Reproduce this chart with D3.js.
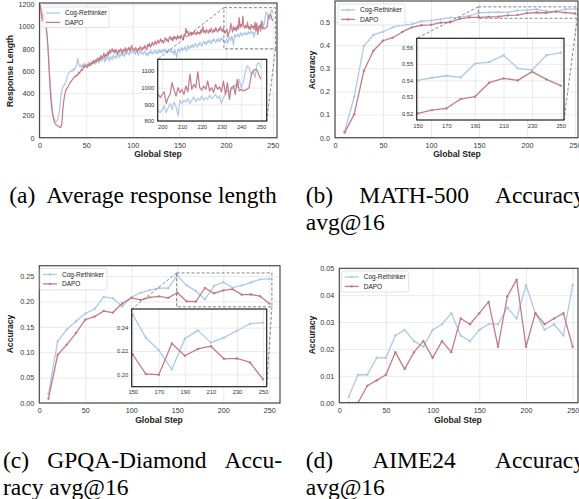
<!DOCTYPE html>
<html>
<head>
<meta charset="utf-8">
<script src="https://cdn.jsdelivr.net/npm/d3@7"></script>
<style>
  body { margin: 0; background: #fff; }
  svg { display: block; }
</style>
</head>
<body>
<svg id="fig" width="579" height="499"></svg>
<script>
(function () {
  'use strict';

  // ── Data ──────────────────────────────────────────────────────────────────
  var seriesNames = ['Cog-Rethinker', 'DAPO'];

  // (a) average response length, one value per global step (1..250)
  var lenCog = [
    1170, 1140, 1100, 1120, 1110, 1060, 990, 910, 830, 700,
    560, 430, 320, 240, 190, 165, 150, 145, 155, 180,
    220, 290, 380, 430, 450, 470, 480, 500, 520, 560,
    575, 590, 600, 595, 610, 600, 625, 615, 640, 660,
    715, 670, 640, 655, 630, 660, 640, 670, 650, 640,
    665, 640, 680, 660, 650, 690, 670, 700, 660, 690,
    680, 710, 690, 670, 720, 700, 690, 730, 710, 680,
    720, 700, 740, 715, 690, 730, 720, 700, 745, 720,
    730, 710, 760, 740, 720, 750, 735, 770, 740, 755,
    730, 770, 750, 780, 760, 745, 775, 760, 790, 770,
    760, 780, 750, 775, 765, 740, 770, 785, 755, 770,
    750, 765, 780, 745, 760, 735, 770, 755, 790, 760,
    775, 750, 770, 790, 760, 780, 755, 795, 770, 785,
    760, 790, 775, 800, 770, 790, 760, 785, 800, 770,
    790, 765, 780, 750, 795, 760, 720, 780, 800, 770,
    790, 810, 780, 805, 790, 820, 800, 780, 830, 810,
    800, 830, 815, 840, 810, 825, 850, 830, 815, 845,
    830, 860, 840, 820, 850, 870, 845, 860, 835, 870,
    855, 880, 860, 845, 880, 865, 890, 870, 855, 885,
    870, 895, 860, 880, 900, 875, 890, 860, 850, 870,
    890, 850, 880, 905, 870, 915, 885, 830, 925, 905,
    925, 915, 935, 905, 925, 945, 915, 935, 925, 950,
    925, 940, 930, 955, 935, 945, 960, 935, 950, 905,
    940, 960, 985, 970, 1000, 990, 1020, 1000, 1050, 1000,
    1030, 1090, 1130, 1120, 1080, 1100, 1060, 1140, 1150, 1120
  ];
  var lenDapo = [
    1195, 1110, 1050, 1090, 1120, 1070, 1010, 940, 820, 650,
    500, 370, 270, 210, 170, 140, 125, 115, 110, 105,
    100, 90, 95, 130, 250, 330, 380, 420, 440, 450,
    465, 480, 500, 505, 520, 530, 540, 555, 550, 565,
    560, 590, 580, 600, 615, 605, 640, 630, 655, 640,
    630, 660, 645, 670, 650, 680, 665, 690, 670, 700,
    680, 715, 690, 720, 700, 740, 710, 730, 760, 720,
    750, 735, 770, 745, 790, 760, 780, 800, 770, 790,
    760, 795, 775, 750, 790, 770, 800, 785, 760, 795,
    780, 810, 770, 800, 790, 815, 780, 805, 830, 790,
    800, 780, 810, 795, 770, 805, 790, 820, 800, 785,
    815, 800, 830, 810, 790, 840, 820, 850, 815, 835,
    860, 830, 845, 870, 840, 855, 880, 850, 865, 890,
    860, 875, 850, 880, 900, 870, 885, 860, 895, 910,
    880, 900, 870, 915, 890, 905, 880, 920, 895, 910,
    890, 925, 900, 880, 930, 910, 985, 940, 960, 915,
    935, 950, 920, 945, 930, 960, 940, 925, 955, 935,
    950, 930, 970, 945, 1000, 950, 965, 940, 975, 955,
    940, 970, 950, 985, 960, 945, 975, 955, 990, 965,
    950, 980, 965, 1000, 970, 955, 985, 960, 940, 960,
    975, 905, 940, 960, 1030, 985, 950, 1000, 970, 990,
    960, 1010, 975, 1080, 990, 1020, 1000, 1095, 1000, 985,
    1010, 990, 1040, 980, 1000, 970, 1020, 990, 1005, 975,
    1040, 960, 1030, 930, 1000, 1010, 960, 1050, 980, 990,
    980, 985, 990, 1000, 1070, 1100, 1110, 1105, 1075, 1050
  ];
  var lenSteps = d3.range(1, lenCog.length + 1);

  // (b)-(d) evaluation every 10 steps
  var evalSteps = [10, 20, 30, 40, 50, 60, 70, 80, 90, 100, 110, 120, 130,
                   140, 150, 160, 170, 180, 190, 200, 210, 220, 230, 240, 250];

  var mathCog  = [0.026, 0.177, 0.396, 0.444, 0.458, 0.477, 0.487, 0.490, 0.504, 0.507,
                  0.512, 0.519, 0.520, 0.527, 0.540, 0.5416, 0.5428, 0.5418, 0.5501, 0.5511,
                  0.5552, 0.5473, 0.5463, 0.5552, 0.5568];
  var mathDapo = [0.022, 0.101, 0.288, 0.376, 0.419, 0.432, 0.457, 0.477, 0.486, 0.488,
                  0.497, 0.499, 0.514, 0.520, 0.520, 0.522, 0.523, 0.5287, 0.5301, 0.5386,
                  0.5412, 0.540, 0.5453, 0.5406, 0.5368];

  var gpqaCog  = [0.0178, 0.122, 0.145, 0.161, 0.176, 0.185, 0.209, 0.206, 0.190, 0.208,
                  0.217, 0.222, 0.226, 0.226, 0.2513, 0.2315, 0.2207, 0.2043, 0.2306, 0.2377,
                  0.2272, 0.2315, 0.2374, 0.2434, 0.2443];
  var gpqaDapo = [0.0086, 0.095, 0.115, 0.138, 0.164, 0.170, 0.181, 0.178, 0.196, 0.207,
                  0.203, 0.208, 0.210, 0.207, 0.217, 0.2003, 0.1997, 0.2264, 0.2159, 0.2218,
                  0.2241, 0.2133, 0.2136, 0.2102, 0.1957];

  var aimeCog  = [0.0021, 0.0104, 0.0104, 0.0167, 0.0167, 0.0250, 0.0271, 0.0229, 0.0208, 0.0271,
                  0.0292, 0.0333, 0.0250, 0.0229, 0.0271, 0.0292, 0.0292, 0.0354, 0.0313, 0.0438,
                  0.0333, 0.0271, 0.0292, 0.0250, 0.0438];
  var aimeDapo = [0, 0, 0.0063, 0.0083, 0.0104, 0.0188, 0.0125, 0.0188, 0.0229, 0.0167,
                  0.0229, 0.0188, 0.0313, 0.0292, 0.0333, 0.0375, 0.0208, 0.0396, 0.0458, 0.0208,
                  0.0333, 0.0292, 0.0313, 0.0333, 0.0208];

  // tick values
  var stepTicks  = [0, 50, 100, 150, 200, 250];
  var lenTicks   = [0, 200, 400, 600, 800, 1000, 1200];
  var mathTicks  = [0, 0.1, 0.2, 0.3, 0.4, 0.5];
  var gpqaTicks  = [0, 0.05, 0.10, 0.15, 0.20, 0.25];
  var aimeTicks  = [0, 0.01, 0.02, 0.03, 0.04, 0.05];
  var lenInsetX  = [200, 210, 220, 230, 240, 250];
  var lenInsetY  = [800, 900, 1000, 1100];
  var evalInsetX = [150, 170, 190, 210, 230, 250];
  var mathInsetY = [0.52, 0.53, 0.54, 0.55, 0.56];
  var gpqaInsetY = [0.20, 0.22, 0.24];

  // ── Style ─────────────────────────────────────────────────────────────────
  var COG  = '#aec8e8';
  var DAPO = '#c47b88';
  var GRID = '#e4e4e4';
  var SANS  = '"Liberation Sans", Arial, Helvetica, sans-serif';
  var SERIF = '"Liberation Serif", "Times New Roman", serif';
  var CAP_FS = 23.5;

  var svg  = d3.select('#fig');
  var defs = svg.append('defs');
  var clipN = 0;

  function cleanGrid(s) {
    s.select('.domain').remove();
    s.selectAll('line').attr('stroke', GRID).attr('stroke-width', 0.8);
  }

  // ── Axes box ──────────────────────────────────────────────────────────────
  function axesBox(box, xDom, yDom, xTicks, yTicks, yFmt, fs, pad) {
    var x = d3.scaleLinear().domain(xDom).range([box.l, box.r]);
    var y = d3.scaleLinear().domain(yDom).range([box.b, box.t]);
    var w = box.r - box.l, h = box.b - box.t;
    var g = svg.append('g');

    g.append('rect').attr('x', box.l).attr('y', box.t)
      .attr('width', w).attr('height', h).attr('fill', '#fff');

    g.append('g').attr('transform', 'translate(0,' + box.b + ')')
      .call(d3.axisBottom(x).tickValues(xTicks).tickSize(-h).tickFormat(''))
      .call(cleanGrid);
    g.append('g').attr('transform', 'translate(' + box.l + ',0)')
      .call(d3.axisLeft(y).tickValues(yTicks).tickSize(-w).tickFormat(''))
      .call(cleanGrid);

    var xa = g.append('g').attr('transform', 'translate(0,' + box.b + ')')
      .call(d3.axisBottom(x).tickValues(xTicks).tickSize(0).tickPadding(pad).tickFormat(d3.format('d')));
    var ya = g.append('g').attr('transform', 'translate(' + box.l + ',0)')
      .call(d3.axisLeft(y).tickValues(yTicks).tickSize(0).tickPadding(pad).tickFormat(yFmt));
    [xa, ya].forEach(function (a) {
      a.select('.domain').remove();
      a.selectAll('text').attr('font-family', SANS).attr('font-size', fs).attr('fill', '#333');
    });

    var id = 'clip' + (clipN++);
    defs.append('clipPath').attr('id', id).append('rect')
      .attr('x', box.l).attr('y', box.t).attr('width', w).attr('height', h);
    var plot = g.append('g').attr('clip-path', 'url(#' + id + ')');

    return { g: g, plot: plot, x: x, y: y, box: box };
  }

  function frame(ax, color, width) {
    var b = ax.box;
    ax.g.append('rect').attr('x', b.l).attr('y', b.t)
      .attr('width', b.r - b.l).attr('height', b.b - b.t)
      .attr('fill', 'none').attr('stroke', color).attr('stroke-width', width);
  }

  function addSeries(ax, xs, vals, color, lw, r) {
    var line = d3.line()
      .x(function (d, i) { return ax.x(xs[i]); })
      .y(function (d) { return ax.y(d); });
    ax.plot.append('path').datum(vals).attr('d', line)
      .attr('fill', 'none').attr('stroke', color).attr('stroke-width', lw)
      .attr('stroke-linejoin', 'round');
    if (r) {
      ax.plot.append('g').selectAll('circle').data(vals).join('circle')
        .attr('cx', function (d, i) { return ax.x(xs[i]); })
        .attr('cy', function (d) { return ax.y(d); })
        .attr('r', r).attr('fill', color);
    }
  }

  function markInset(main, ins) {
    var xd = ins.x.domain(), yd = ins.y.domain();
    var l = main.x(xd[0]), r = main.x(xd[1]), t = main.y(yd[1]), b = main.y(yd[0]);
    var g = svg.append('g').attr('fill', 'none').attr('stroke', '#666')
      .attr('stroke-width', 0.8).attr('stroke-dasharray', '3,2');
    g.append('rect').attr('x', l).attr('y', t).attr('width', r - l).attr('height', b - t);
    g.append('line').attr('x1', l).attr('y1', t).attr('x2', ins.box.l).attr('y2', ins.box.t);
    g.append('line').attr('x1', r).attr('y1', b).attr('x2', ins.box.r).attr('y2', ins.box.b);
  }

  function legend(box, marker) {
    var g = svg.append('g');
    g.append('rect').attr('x', box.l).attr('y', box.t).attr('width', box.w).attr('height', box.h)
      .attr('rx', 1.5).attr('fill', '#fff').attr('fill-opacity', 0.85)
      .attr('stroke', '#d2d2d2').attr('stroke-width', 0.6);
    [COG, DAPO].forEach(function (c, i) {
      var yy = box.t + 6 + i * 9.4;
      g.append('line').attr('x1', box.l + 3).attr('x2', box.l + 17).attr('y1', yy).attr('y2', yy)
        .attr('stroke', c).attr('stroke-width', 1.3);
      if (marker) g.append('circle').attr('cx', box.l + 10).attr('cy', yy).attr('r', 1.2).attr('fill', c);
      g.append('text').attr('x', box.l + 22).attr('y', yy + 2.3)
        .attr('font-family', SANS).attr('font-size', 6.5).attr('fill', '#222')
        .text(seriesNames[i]);
    });
  }

  function axisLabel(x, y, txt, rot) {
    svg.append('text')
      .attr('transform', 'translate(' + x + ',' + y + ')' + (rot ? ' rotate(-90)' : ''))
      .attr('text-anchor', 'middle')
      .attr('font-family', SANS).attr('font-size', 8.6).attr('font-weight', 'bold').attr('fill', '#222')
      .text(txt);
  }

  function capText(x, y, txt) {
    return svg.append('text').attr('x', x).attr('y', y)
      .attr('font-family', SERIF).attr('font-size', CAP_FS).attr('fill', '#000')
      .text(txt);
  }

  // justified caption line: words spread from x0 to x1
  function justify(words, x0, x1, y) {
    var nodes = words.map(function (w) { return capText(x0, y, w); });
    var widths = nodes.map(function (n) { return n.node().getComputedTextLength(); });
    var gap = (x1 - x0 - d3.sum(widths)) / (words.length - 1);
    var cx = x0;
    nodes.forEach(function (n, i) { n.attr('x', cx); cx += widths[i] + gap; });
  }

  var f1 = d3.format('.1f'), f2 = d3.format('.2f'), fd = d3.format('d');

  // ── (a) Average response length ───────────────────────────────────────────
  var A = axesBox({ l: 39.5, r: 277, t: 3, b: 137.7 }, [0, 254.6], [0, 1212],
                  stepTicks, lenTicks, fd, 7.2, 5);
  addSeries(A, lenSteps, lenCog, COG, 1.2, 0);
  addSeries(A, lenSteps, lenDapo, DAPO, 1.2, 0);
  frame(A, '#4a4a4a', 1.2);
  var IA = axesBox({ l: 157.7, r: 266.7, t: 59.3, b: 121 }, [197.7, 252.9], [800, 1170],
                   lenInsetX, lenInsetY, fd, 5.8, 3.5);
  markInset(A, IA);
  IA.g.raise();
  addSeries(IA, lenSteps, lenCog, COG, 1.2, 0);
  addSeries(IA, lenSteps, lenDapo, DAPO, 1.2, 0);
  frame(IA, '#222', 1.2);
  legend({ l: 43, t: 7, w: 66, h: 20.5 }, false);
  axisLabel(12.7, 71, 'Response Length', true);
  axisLabel(158, 157, 'Global Step');

  // ── (b) MATH-500 ──────────────────────────────────────────────────────────
  var B = axesBox({ l: 335, r: 578, t: 1, b: 137.7 }, [0, 253.1], [0, 0.5908],
                  stepTicks, mathTicks, f1, 7.2, 5);
  addSeries(B, evalSteps, mathCog, COG, 1.3, 1.2);
  addSeries(B, evalSteps, mathDapo, DAPO, 1.3, 1.2);
  frame(B, '#4a4a4a', 1.2);
  var IB = axesBox({ l: 416.7, r: 564, t: 38.3, b: 120 }, [149.3, 252.3], [0.516, 0.5655],
                   evalInsetX, mathInsetY, f2, 5.8, 3.5);
  markInset(B, IB);
  IB.g.raise();
  addSeries(IB, evalSteps, mathCog, COG, 1.3, 1.2);
  addSeries(IB, evalSteps, mathDapo, DAPO, 1.3, 1.2);
  frame(IB, '#222', 1.2);
  legend({ l: 338, t: 4, w: 67, h: 21 }, true);
  axisLabel(315, 70, 'Accuracy', true);
  axisLabel(457, 157, 'Global Step');

  // ── (c) GPQA-Diamond ──────────────────────────────────────────────────────
  var C = axesBox({ l: 39.3, r: 280, t: 265.7, b: 403 }, [0, 261.6], [0, 0.2703],
                  stepTicks, gpqaTicks, f2, 7.2, 5);
  addSeries(C, evalSteps, gpqaCog, COG, 1.3, 1.2);
  addSeries(C, evalSteps, gpqaDapo, DAPO, 1.3, 1.2);
  frame(C, '#4a4a4a', 1.2);
  var IC = axesBox({ l: 131.7, r: 266.7, t: 309, b: 386.7 }, [149.2, 252.8], [0.1894, 0.256],
                   evalInsetX, gpqaInsetY, f2, 5.8, 3.5);
  markInset(C, IC);
  IC.g.raise();
  addSeries(IC, evalSteps, gpqaCog, COG, 1.3, 1.2);
  addSeries(IC, evalSteps, gpqaDapo, DAPO, 1.3, 1.2);
  frame(IC, '#222', 1.2);
  legend({ l: 40, t: 268.5, w: 67, h: 21.5 }, true);
  axisLabel(12.5, 334, 'Accuracy', true);
  axisLabel(159, 423, 'Global Step');

  // ── (d) AIME24 ────────────────────────────────────────────────────────────
  var D = axesBox({ l: 339.3, r: 578, t: 268.3, b: 402.7 }, [0, 255.7], [0, 0.05],
                  stepTicks, aimeTicks, f2, 7.2, 5);
  addSeries(D, evalSteps, aimeCog, COG, 1.3, 1.2);
  addSeries(D, evalSteps, aimeDapo, DAPO, 1.3, 1.2);
  frame(D, '#4a4a4a', 1.2);
  legend({ l: 341.7, t: 271, w: 67, h: 21 }, true);
  axisLabel(315, 335, 'Accuracy', true);
  axisLabel(458, 423, 'Global Step');

  // ── Captions ──────────────────────────────────────────────────────────────
  capText(9.2, 203, '(a)');
  capText(46.2, 203, 'Average response length');
  justify(['(b)', 'MATH-500', 'Accuracy'], 305.8, 585, 203);
  capText(305.8, 230, 'avg@16');
  justify(['(c)', 'GPQA-Diamond', 'Accu-'], 3, 282, 468);
  capText(3, 495, 'racy avg@16');
  justify(['(d)', 'AIME24', 'Accuracy'], 305.8, 585, 468);
  capText(305.8, 495, 'avg@16');
})();
</script>
</body>
</html>
